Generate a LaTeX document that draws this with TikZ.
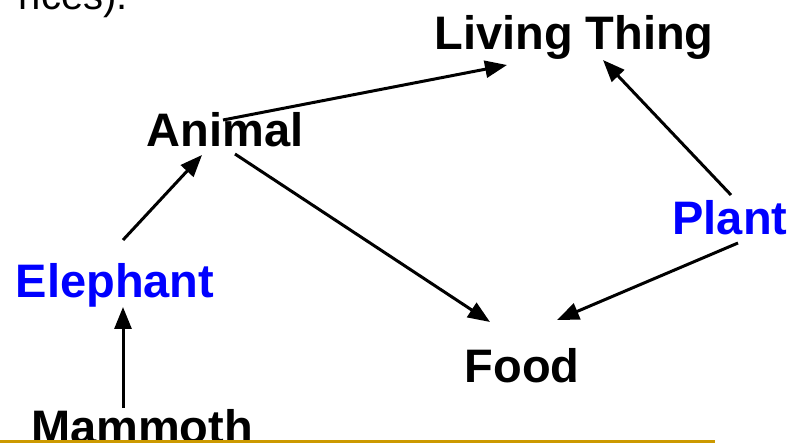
\documentclass[tikz,border=0pt]{standalone}
\usepackage{fontspec}
\setmainfont{Liberation Sans}
\usetikzlibrary{arrows.meta,calc}
\definecolor{gold}{RGB}{204,153,0}

\begin{document}
\begin{tikzpicture}[x=1pt,y=-1pt,
  concept/.style={font=\fontsize{47}{56}\selectfont\bfseries, anchor=base, inner sep=0pt},
  kind/.style={concept, text=blue},
  isa/.style={line width=3pt, -{Triangle[length=22pt,width=17pt]}}]
\useasboundingbox (0,0) rectangle (790,443);

\node[anchor=base east, inner sep=0pt, font=\fontsize{40}{48}\selectfont] (prev) at (128,10) {nces).};

\node[concept] (liv) at (574,50) {Living Thing};
\node[concept] (anim) at (225,147) {Animal};
\node[kind] (ele) at (115,298) {Elephant};
\node[kind] (plant) at (730,235) {Plant};
\node[concept] (food) at (522,383) {Food};
\node[concept] (mam) at (142,444) {Mammoth};

\foreach \a/\p/\b/\q in {mam/{-19,-36}/ele/{8,9}, ele/{8,-58}/anim/{-23,8},
  anim/{-2,-27}/liv/{-67,15}, anim/{10,7}/food/{-32,-61},
  plant/{1,-40}/liv/{29,10}, plant/{8,8}/food/{35,-63}}{
\draw[isa] ([shift={(\p)}]\a.base) -- ([shift={(\q)}]\b.base);}

\draw[gold, line width=3pt] (0,441.5) -- (715,441.5);
\end{tikzpicture}
\end{document}
